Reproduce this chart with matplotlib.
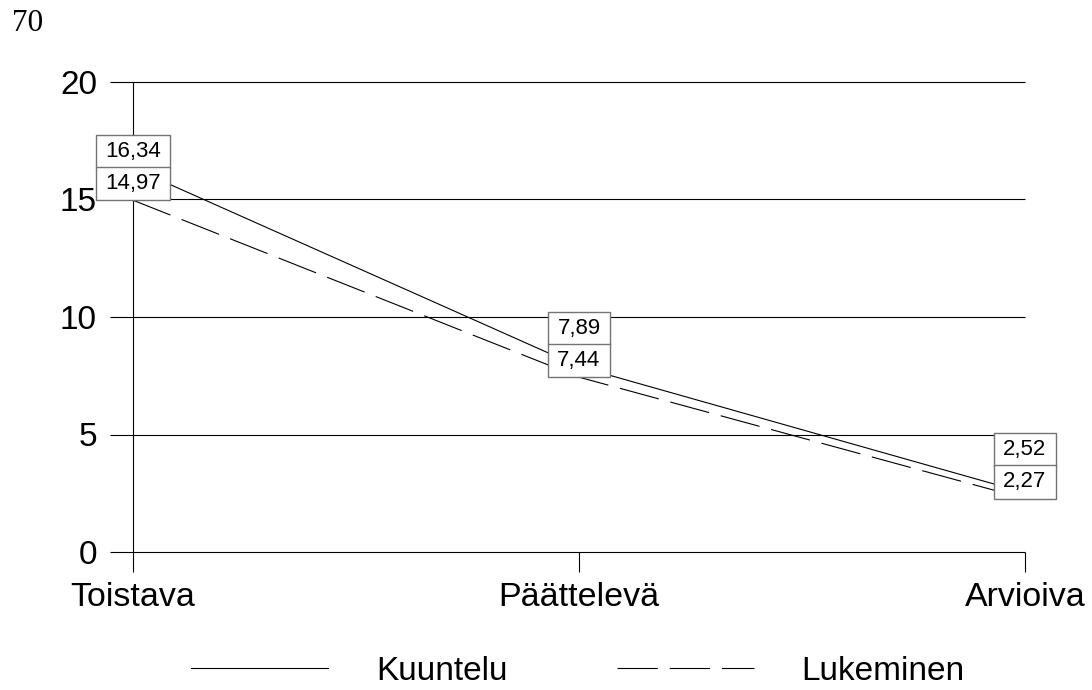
import numpy as np
import matplotlib.pyplot as plt
from matplotlib.path import Path

plt.rcParams['font.family'] = ['Liberation Sans', 'DejaVu Sans']
plt.rcParams['lines.scale_dashes'] = False

categories = ['Toistava', 'Päättelevä', 'Arvioiva']
kuuntelu = [16.34, 7.89, 2.52]
lukeminen = [14.97, 7.44, 2.27]
kuuntelu_labels = ['16,34', '7,89', '2,52']
lukeminen_labels = ['14,97', '7,44', '2,27']
yticks = [0, 5, 10, 15, 20]


def label_box(x0, y0, width, height, mutation_size):
    # rectangle with more padding left/right than top/bottom
    px = 0.42 * mutation_size
    py = 0.28 * mutation_size
    x0, x1 = x0 - px, x0 + width + px
    y0, y1 = y0 - py, y0 + height + py
    return Path([(x0, y0), (x1, y0), (x1, y1), (x0, y1), (x0, y0)], closed=True)


fig = plt.figure(figsize=(10.92, 6.9), dpi=100)
ax = fig.add_axes([133 / 1092, 138 / 690, 892 / 1092, 470 / 690])
x = np.arange(len(categories))

ax.set_xlim(0, 2)
ax.set_ylim(0, 20)
for s in ax.spines.values():
    s.set_visible(False)

# grid lines start a bit left of the vertical axis
ax.hlines(yticks, -0.052, 2, colors='black', lw=0.8, clip_on=False, zorder=1)
ax.vlines(0, 0, 20, colors='black', lw=0.8, clip_on=False, zorder=1)

ax.plot(x, kuuntelu, color='black', lw=0.8, zorder=2, label='Kuuntelu')
ax.plot(x, lukeminen, color='black', lw=0.8, dashes=(29, 8.6), zorder=2,
        label='Lukeminen')

ax.set_yticks(yticks)
ax.set_yticklabels([str(v) for v in yticks], fontsize=24)
ax.tick_params(axis='y', length=0, pad=26)
ax.set_xticks(x)
ax.set_xticklabels(categories, fontsize=24.5)
ax.tick_params(axis='x', length=14.4, width=0.8, direction='out', pad=7.5)

fs = 16
box_h = 32 / 1.389  # box height in points
box = dict(boxstyle=label_box, facecolor='white', edgecolor='0.45', lw=1)
for i in range(len(categories)):
    base = min(kuuntelu[i], lukeminen[i])
    off = 0.28 * fs
    ax.annotate(lukeminen_labels[i], (x[i], base), xytext=(0, off),
                textcoords='offset points', ha='center', va='bottom',
                fontsize=fs, bbox=box, zorder=5, annotation_clip=False)
    ax.annotate(kuuntelu_labels[i], (x[i], base), xytext=(0, off + box_h),
                textcoords='offset points', ha='center', va='bottom',
                fontsize=fs, bbox=box, zorder=4, annotation_clip=False)

fig.text(12 / 1092, 1 - 9 / 690, '70', va='top', ha='left',
         fontsize=22.5, family='Liberation Serif')

fig.legend(loc='center', bbox_to_anchor=(578 / 1092, 19 / 690), ncol=2,
           frameon=False, fontsize=24, handlelength=4.11, handletextpad=1.44,
           columnspacing=3.27, borderpad=0, borderaxespad=0)

fig.savefig('out.png', dpi=100)
